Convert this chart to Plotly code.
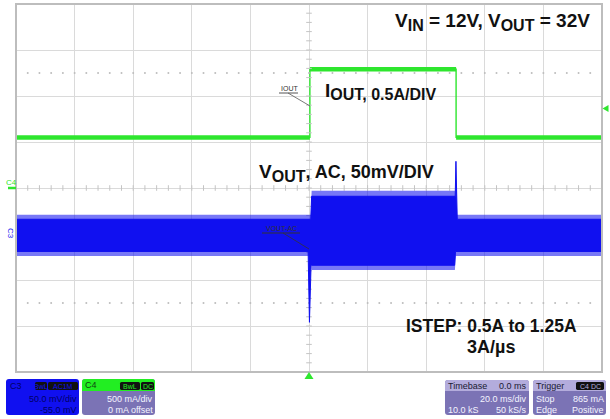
import plotly.graph_objects as go
import numpy as np

W, H = 610, 419
L, R, T, B = 16, 602, 4, 372   # plot area in pixels

# ---------------- data ----------------
# Time in ms (20 ms/div, 10 div); IOUT in A (0.5 A/div); VOUT AC in mV (50 mV/div, offset -55 mV)
iout_t = [-100, 0.3, 0.3, 50.2, 50.2, 100]
iout_a = [0.55, 0.55, 1.29, 1.29, 0.55, 0.55]

# dense core of the VOUT ripple band (includes the load-step spikes)
core_up_t = [-100, 0.6, 0.9, 49.9, 50.15, 50.35, 50.6, 100]
core_up_v = [21, 21, 46, 46, 84, 40, 21, 21]
core_lo_t = [-100, -0.3, 0.15, 0.7, 0.9, 49.7, 50.0, 100]
core_lo_v = [-14, -14, -91, -29, -29, -29, -14, -14]
# ragged outer fringe of the ripple band
outer_up_t = [-100, 0.6, 0.9, 49.8, 50.1, 100]
outer_up_v = [26, 26, 52, 52, 26, 26]
outer_lo_t = [-100, 0.6, 0.9, 49.8, 50.1, 100]
outer_lo_v = [-19, -19, -34, -34, -19, -19]

trig_level_a = 0.865

X_RANGE = [-100, 100]
Y_RANGE = [-2, 2]
V_RANGE = [-145, 255]

GREEN = "#2ee62e"
BLUE = "#1010f0"
PURPLE = "#7b73b5"
LAV = "#b3acdc"
FONT = "Liberation Sans, Arial, sans-serif"


def px(x):
    return (x - L) / (R - L)


def py(y):
    return (B - y) / (B - T)


fig = go.Figure()

# outer fringe of blue band
fig.add_trace(go.Scatter(
    x=outer_up_t + outer_lo_t[::-1], y=outer_up_v + outer_lo_v[::-1],
    fill="toself", fillcolor="rgba(30,30,240,0.6)", line=dict(width=0),
    mode="lines", yaxis="y2", hoverinfo="skip", showlegend=False))
# dense core of blue band
fig.add_trace(go.Scatter(
    x=core_up_t + core_lo_t[::-1], y=core_up_v + core_lo_v[::-1],
    fill="toself", fillcolor=BLUE, line=dict(width=1, color=BLUE),
    mode="lines", yaxis="y2", hoverinfo="skip", showlegend=False))

# green IOUT: thin edges + thick noisy horizontal segments
fig.add_trace(go.Scatter(x=iout_t, y=iout_a, mode="lines",
                         line=dict(color=GREEN, width=1.4), hoverinfo="skip", showlegend=False))
hx, hy = [], []
for i in range(len(iout_t) - 1):
    if iout_a[i] == iout_a[i + 1]:
        hx += [iout_t[i], iout_t[i + 1], None]
        hy += [iout_a[i], iout_a[i + 1], None]
fig.add_trace(go.Scatter(x=hx, y=hy, mode="lines",
                         line=dict(color=GREEN, width=4.5), hoverinfo="skip", showlegend=False))

# graticule decorations: dotted rows at +/-2.5 div, center axis ticks
xd = np.arange(X_RANGE[0], X_RANGE[1] + 0.01, 4.0)
fig.add_trace(go.Scatter(x=np.concatenate([xd, xd]), y=[1.25] * len(xd) + [-1.25] * len(xd),
                         mode="markers", marker=dict(size=2, color="#bdbdbd"),
                         hoverinfo="skip", showlegend=False))
fig.add_trace(go.Scatter(x=xd, y=[0] * len(xd), mode="markers",
                         marker=dict(symbol="line-ns", size=4, line=dict(width=1, color="#c4c4c4")),
                         hoverinfo="skip", showlegend=False))
yd = np.arange(Y_RANGE[0], Y_RANGE[1] + 0.001, 0.1)
fig.add_trace(go.Scatter(x=[0] * len(yd), y=yd, mode="markers",
                         marker=dict(symbol="line-ew", size=4, line=dict(width=1, color="#c4c4c4")),
                         hoverinfo="skip", showlegend=False))

shapes = []
# plot border
shapes.append(dict(type="rect", xref="paper", yref="paper", x0=0, x1=1, y0=0, y1=1,
                   line=dict(color="#bdbdbd", width=2), layer="above"))


def rrect(x0, y0, x1, y1, r, color, top_only=False):
    def P(x, y):
        return f"{px(x):.5f},{py(y):.5f}"
    if top_only:
        path = (f"M {P(x0, y1)} L {P(x0, y0 + r)} Q {P(x0, y0)} {P(x0 + r, y0)} "
                f"L {P(x1 - r, y0)} Q {P(x1, y0)} {P(x1, y0 + r)} L {P(x1, y1)} Z")
    else:
        path = (f"M {P(x0 + r, y0)} L {P(x1 - r, y0)} Q {P(x1, y0)} {P(x1, y0 + r)} "
                f"L {P(x1, y1 - r)} Q {P(x1, y1)} {P(x1 - r, y1)} L {P(x0 + r, y1)} "
                f"Q {P(x0, y1)} {P(x0, y1 - r)} L {P(x0, y0 + r)} Q {P(x0, y0)} {P(x0 + r, y0)} Z")
    return dict(type="path", path=path, xref="paper", yref="paper",
                fillcolor=color, line=dict(width=0), layer="above")


# status boxes
shapes.append(rrect(6, 379, 79, 415, 3, BLUE))
shapes.append(rrect(82, 379, 155, 415, 3, PURPLE))
shapes.append(rrect(82, 379, 155, 391, 3, "#22ee22", top_only=True))
shapes.append(rrect(445, 380, 529, 415, 3, PURPLE))
shapes.append(rrect(445, 380, 529, 391, 3, LAV, top_only=True))
shapes.append(rrect(533, 380, 606, 415, 3, PURPLE))
shapes.append(rrect(533, 380, 606, 391, 3, LAV, top_only=True))
# black pills
for (a, b) in [(35, 47), (48, 78), (120, 140), (141, 154), (576, 604)]:
    shapes.append(rrect(a, 382, b, 390, 1.5, "#111111"))


def tri(points, color):
    p = " L ".join(f"{px(x):.5f},{py(y):.5f}" for x, y in points)
    return dict(type="path", path="M " + p + " Z", xref="paper", yref="paper",
                fillcolor=color, line=dict(width=0), layer="above")


# trigger markers and channel markers
shapes.append(tri([(309, 372), (304.5, 379), (313.5, 379)], GREEN))
ytrig = T + (Y_RANGE[1] - trig_level_a) / (Y_RANGE[1] - Y_RANGE[0]) * (B - T)
shapes.append(tri([(602.5, ytrig), (608.5, ytrig - 3.5), (608.5, ytrig + 3.5)], GREEN))
shapes.append(dict(type="line", xref="paper", yref="paper", x0=px(8), x1=px(16),
                   y0=py(188), y1=py(188), line=dict(color=GREEN, width=2.5), layer="above"))
# leader lines of small trace labels
shapes.append(dict(type="line", xref="paper", yref="paper", x0=px(279), x1=px(298),
                   y0=py(93), y1=py(93), line=dict(color="#555555", width=1)))
shapes.append(dict(type="line", xref="paper", yref="paper", x0=px(288), x1=px(310),
                   y0=py(93), y1=py(106), line=dict(color="#555555", width=0.8)))
shapes.append(dict(type="line", xref="paper", yref="paper", x0=px(262), x1=px(300),
                   y0=py(233), y1=py(233), line=dict(color="#333333", width=1)))
shapes.append(dict(type="line", xref="paper", yref="paper", x0=px(283), x1=px(309),
                   y0=py(233), y1=py(249), line=dict(color="#333333", width=0.8)))

ann = []


def text(x, y, s, size, color="#111111", anchor="center", bold=False, angle=0):
    ann.append(dict(x=px(x), y=py(y), xref="paper", yref="paper", text=s, showarrow=False,
                    xanchor=anchor, yanchor="middle", borderpad=0, textangle=angle,
                    font=dict(family=FONT, size=size, color=color,
                              weight="bold" if bold else "normal")))


text(591, 22, "V<sub><span style='font-size:16px'>IN</span></sub> = 12V, "
              "V<sub><span style='font-size:16px'>OUT</span></sub> = 32V", 19, anchor="right", bold=True)
text(324, 92, "<span style='font-size:19px'>I</span><sub><span style='font-size:16px'>OUT, 0.5A/DIV</span></sub>",
     16, anchor="left", bold=True)
text(258, 173, "<span style='font-size:19px'>V</span><sub><span style='font-size:16px'>OUT</span></sub>, AC, 50mV/DIV",
     18, anchor="left", bold=True)
text(491, 326, "ISTEP: 0.5A to 1.25A", 17.5, bold=True)
text(491, 347, "3A/µs", 18, bold=True)
text(289, 88, "IOUT", 7, color="#333333")
text(281, 228, "VOUT-AC", 7, color="#333333")
text(11, 182, "C4", 8, color=GREEN)
text(10, 233, "C3", 8, color=BLUE, angle=90)

# status box texts
DK = "#000066"
text(9, 386, "C3", 9, color=DK, anchor="left")
text(41, 386, "BwL", 7, color=BLUE)
text(63, 386, "AC1M", 7, color=BLUE)
text(78, 399, "50.0 mV/div", 9, color=DK, anchor="right")
text(78, 410, "-55.0 mV", 9, color=DK, anchor="right")
text(84, 385.5, "C4", 9, color="#114411", anchor="left")
text(130, 386, "BwL", 7, color="#22ee22")
text(147.5, 386, "DC", 7, color="#22ee22")
text(154, 399, "500 mA/div", 9, color="#f4f4ff", anchor="right")
text(154, 410, "0 mA offset", 9, color="#f4f4ff", anchor="right")
text(447, 386, "Timebase", 9, color="#1a1a33", anchor="left")
text(528, 386, "0.0 ms", 9, color="#1a1a33", anchor="right")
text(528, 399, "20.0 ms/div", 9, color="#f4f4ff", anchor="right")
text(447, 410, "10.0 kS", 9, color="#f4f4ff", anchor="left")
text(528, 410, "50 kS/s", 9, color="#f4f4ff", anchor="right")
text(535, 386, "Trigger", 9, color="#1a1a33", anchor="left")
text(590, 386, "C4 DC", 7, color=LAV)
text(535, 399, "Stop", 9, color="#f4f4ff", anchor="left")
text(605, 399, "865 mA", 9, color="#f4f4ff", anchor="right")
text(535, 410, "Edge", 9, color="#f4f4ff", anchor="left")
text(605, 410, "Positive", 9, color="#f4f4ff", anchor="right")

grid = dict(showgrid=True, gridcolor="#dadada", gridwidth=1, zeroline=False,
            showticklabels=False, ticks="", showline=False, fixedrange=True)
fig.update_layout(
    width=W, height=H,
    margin=dict(l=L, r=W - R, t=T, b=H - B, pad=0),
    paper_bgcolor="white", plot_bgcolor="white",
    xaxis=dict(range=X_RANGE, dtick=20, **grid),
    yaxis=dict(range=Y_RANGE, dtick=0.5, **grid),
    yaxis2=dict(range=V_RANGE, overlaying="y", visible=False, fixedrange=True),
    shapes=shapes, annotations=ann, showlegend=False,
    font=dict(family=FONT),
)
fig.write_html("out.html", config={"displayModeBar": False},
               post_script="document.body.style.margin='0';document.body.style.overflow='hidden';")
